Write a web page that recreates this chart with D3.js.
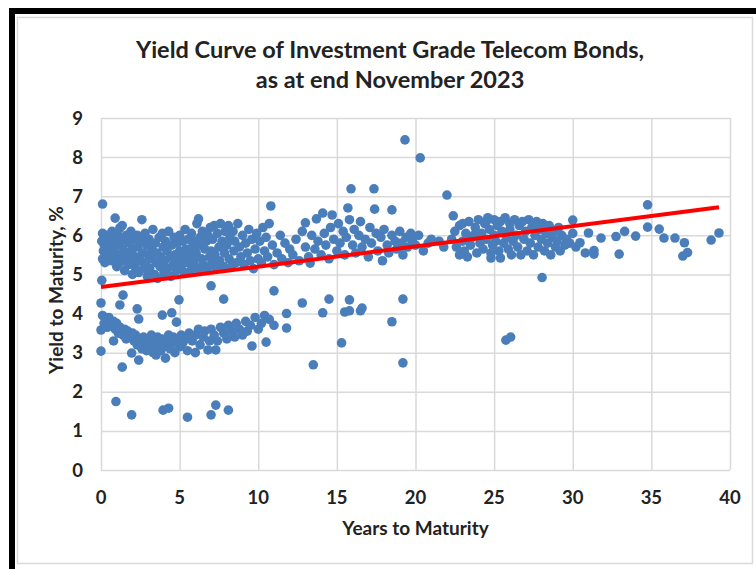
<!DOCTYPE html>
<meta charset="utf-8">
<style>
  body { margin: 0; background: #fff; }
  svg { display: block; font-family: Lato, "Open Sans", sans-serif; }
  .grid line { stroke: #d9d9d9; stroke-width: 1.5px; }
  .grid path { display: none; }
  .tick-label { font-size: 18.5px; font-weight: bold; fill: #222; }
  .title { font-size: 23.5px; font-weight: bold; fill: #222; text-anchor: middle; }
  .axis-title { font-size: 19px; font-weight: bold; fill: #222; text-anchor: middle; }
</style>

<script src="https://d3js.org/d3.v7.min.js"></script>

<div id="chart"></div>

<script>
  // axis ticks
  var xTicks = [0, 5, 10, 15, 20, 25, 30, 35, 40];
  var yTicks = [0, 1, 2, 3, 4, 5, 6, 7, 8, 9];

  // bonds, [years to maturity, yield %]
  var shortUpper = [
    [0.05,5.85],[0.1,6.05],[0.15,5.6],[0.2,5.75],[0.1,5.4],[0.3,5.95],[0.25,5.3],[0.4,6.0],[0.45,5.5],[0.5,5.7],
    [0.6,5.85],[0.65,5.35],[0.7,6.1],[0.8,5.6],[0.85,5.45],[0.9,5.95],[1.0,5.2],[1.0,5.75],
    [1.1,6.0],[1.15,5.5],[1.2,5.3],[1.3,5.85],[1.35,6.25],[1.4,5.65],[1.5,5.1],[1.55,5.4],[1.6,6.0],[1.7,5.55],
    [1.75,5.25],[1.8,5.8],[1.9,6.1],[1.95,5.35],[2.0,5.0],[2.0,5.65],
    [2.1,5.9],[2.15,5.2],[2.2,5.45],[2.3,6.0],[2.35,5.7],[2.4,5.05],[2.5,5.35],[2.55,5.85],[2.6,6.4],[2.65,5.55],
    [2.7,5.15],[2.8,6.05],[2.85,5.3],[2.9,5.75],[2.95,4.95],[3.0,5.5],
    [3.05,5.9],[3.1,5.15],[3.2,5.4],[3.25,5.65],[3.3,6.15],[3.4,5.0],[3.45,5.8],[3.5,5.3],[3.55,5.55],[3.6,4.9],
    [3.7,5.95],[3.75,5.2],[3.8,5.45],[3.9,6.05],[3.95,5.7],[4.0,5.05],
    [4.05,5.35],[4.1,5.85],[4.2,5.6],[4.25,5.15],[4.3,6.1],[4.4,5.45],[4.45,4.95],[4.5,5.75],[4.6,5.25],[4.65,5.95],
    [4.7,5.5],[4.8,5.1],[4.85,5.8],[4.9,5.35],[5.0,6.0],[5.0,5.6],
    [5.1,5.2],[5.15,5.45],[5.2,5.85],[5.3,5.05],[5.35,6.15],[5.4,5.65],[5.5,5.3],[5.55,5.9],[5.6,5.5],[5.7,5.1],
    [5.75,6.05],[5.8,5.7],[5.9,5.35],[5.95,5.85],[6.0,5.2],
    [6.05,5.55],[6.1,6.3],[6.2,5.75],[6.25,5.1],[6.3,5.95],[6.4,5.4],[6.45,6.1],[6.5,5.25],[6.6,5.65],[6.7,5.85],
    [6.75,5.15],[6.8,6.0],[6.9,5.45],[6.95,6.2],[7.0,5.6],
    [7.05,5.3],[7.1,5.9],[7.2,6.25],[7.25,5.5],[7.3,5.15],[7.4,6.05],[7.5,5.7],[7.55,5.35],[7.6,6.3],[7.7,5.85],
    [7.8,5.2],[7.85,5.55],[7.9,6.1],[8.0,5.75],
    [8.1,6.25],[8.15,5.4],[8.2,5.95],[8.3,5.2],[8.4,6.1],[8.45,5.6],[8.5,5.85],[8.6,5.3],[8.7,6.3],[8.8,5.7],
    [8.9,5.45],[9.0,6.0],
    [9.1,5.25],[9.2,5.8],[9.3,5.55],[9.4,6.15],[9.5,5.35],[9.6,5.9],[9.7,5.15],[9.8,5.65],[9.9,6.05],[10.0,5.4],
    [10.1,5.85],[10.2,5.3],[10.3,6.2],[10.4,5.6],[10.5,5.95],[10.6,5.45],[10.7,6.3],[10.8,6.75],[10.9,5.75],[11.0,5.25],
    [11.2,5.55],[11.4,6.0],[11.5,5.4],[11.7,5.8],[11.9,5.3],[12.0,5.65],
    [0.1,6.8],[0.9,6.44],[1.2,6.19],[6.2,6.42]
  ];

  var shortLower = [
    [0.0,3.58],[0.0,3.04],[0.1,3.95],[0.2,3.75],[0.3,3.85],[0.4,3.65],[0.5,3.9],[0.6,3.7],[0.8,3.3],[0.8,3.8],
    [0.9,3.6],[1.0,3.75],[1.1,3.5],[1.2,3.65],[1.35,2.63],[1.4,3.45],[1.5,3.6],[1.6,3.35],[1.7,3.55],[1.8,3.4],
    [1.95,2.99],[2.0,3.5],[2.1,3.3],[2.2,3.45],[2.3,3.2],[2.4,3.86],[2.4,2.81],[2.5,3.35],[2.6,3.1],[2.7,3.4],
    [2.8,3.25],[2.9,3.05],[3.0,3.35],[3.1,3.2],[3.2,3.45],[3.3,3.0],[3.4,3.3],[3.5,2.94],[3.5,3.15],[3.6,3.4],
    [3.7,3.25],[3.8,3.05],[3.9,3.96],[3.9,3.35],[4.0,3.15],[4.1,2.86],[4.2,3.3],[4.3,3.45],[4.4,3.1],[4.5,4.02],
    [4.5,3.25],[4.6,3.4],[4.7,3.0],[4.8,3.78],[4.8,3.3],[5.0,3.15],[5.1,3.45],[5.2,3.25],[5.4,3.35],[5.5,3.05],
    [5.6,3.5],[5.8,3.3],[6.0,3.0],[6.0,3.45],[6.2,3.6],[6.3,3.2],[6.5,3.4],[6.6,3.55],[6.8,3.07],[6.9,3.3],
    [7.0,3.6],[7.2,3.45],[7.3,3.07],[7.4,3.3],[7.6,3.65],[7.8,3.5],[8.0,3.35],[8.1,3.7],[8.3,3.55],[8.5,3.4],
    [8.6,3.75],[8.8,3.6],[9.0,3.45],[9.2,3.8],[9.3,3.55],[9.6,3.17],[9.5,3.7],[9.8,3.9],[10.0,3.6],[10.2,3.75],
    [10.5,3.27],[10.4,3.95],[10.7,3.85],[11.0,3.7],[11.8,3.63],[11.8,4.0],
    [0.05,4.85],[1.4,4.47],[1.2,4.22],[0.0,4.27],[2.3,4.12],[4.96,4.35],[7.0,4.71],[7.8,4.37],[11.0,4.58],[12.8,4.27]
  ];

  var lowOutliers = [
    [0.95,1.75],[1.95,1.41],[3.95,1.53],[4.3,1.58],[5.5,1.35],[7.0,1.41],[7.3,1.66],[8.1,1.53]
  ];

  var midTerm = [
    [12.2,5.5],[12.4,5.9],[12.6,5.35],[12.8,6.1],[13.0,6.32],[13.0,5.7],[13.2,5.45],[13.3,5.29],[13.4,6.0],[13.6,5.65],
    [13.7,6.42],[13.8,5.85],[14.0,5.5],[14.1,6.57],[14.2,6.05],[14.3,5.75],[14.5,5.4],[14.6,6.2],[14.7,6.52],[14.8,5.9],
    [15.0,5.6],[15.1,6.3],[15.2,5.8],[15.4,6.1],[15.5,5.5],[15.6,5.95],[15.7,6.7],[15.8,6.4],[16.0,5.75],[16.1,6.15],
    [16.2,5.55],[16.4,6.0],[16.5,6.35],[16.6,5.7],[16.8,5.9],[17.0,5.45],[17.1,6.2],[17.2,5.8],[17.4,6.67],[17.5,6.05],
    [17.6,5.6],[17.8,5.95],[17.9,5.35],[18.0,6.15],[18.2,5.75],[18.3,5.55],[18.5,6.65],[18.5,6.0],[18.7,5.85],[18.8,5.65],
    [19.0,6.1],[19.1,5.8],[19.2,5.5],[19.4,5.95],[19.5,5.7],[19.7,6.05],[19.8,5.85],[20.0,5.75],[20.2,6.0],[20.5,5.6],
    [20.8,5.8],[21.0,5.9],[21.5,5.85],[21.8,5.7],
    [19.33,8.44],[20.3,7.98],[15.9,7.19],[17.36,7.19],[22.0,7.03],
    [14.5,4.37],[14.1,4.02],[15.8,4.35],[15.5,4.04],[15.8,4.07],[16.5,4.07],[16.6,4.14],[19.2,4.37],[18.5,3.79],
    [15.3,3.25],[13.5,2.69],[19.2,2.74]
  ];

  var longTerm = [
    [22.3,5.9],[22.5,6.1],[22.6,5.7],[22.8,6.25],[23.0,5.85],[23.1,5.6],[23.2,6.05],[23.4,6.35],[23.5,5.75],[23.6,5.95],
    [23.8,6.2],[23.9,5.55],[24.0,6.4],[24.1,5.8],[24.2,6.05],[24.3,5.65],[24.4,6.3],[24.5,5.9],[24.6,6.45],[24.7,6.15],
    [24.8,5.55],[24.9,5.75],[25.0,6.4],[25.0,6.0],[25.1,5.85],[25.2,6.25],[25.3,5.6],[25.4,5.42],[25.4,6.35],[25.5,6.1],
    [25.6,5.8],[25.7,6.45],[25.8,5.95],[25.9,5.65],[26.0,6.3],[26.0,6.15],[26.1,5.5],[26.2,5.85],[26.3,6.4],[26.4,6.0],
    [26.5,5.7],[26.6,6.25],[26.7,5.5],[26.8,6.35],[26.9,5.9],[27.0,6.1],[27.1,5.6],[27.2,6.4],[27.3,5.8],[27.4,6.2],
    [27.5,5.5],[27.6,6.0],[27.7,6.35],[27.8,5.7],[27.9,6.15],[28.0,5.9],[28.1,6.3],[28.2,5.6],[28.3,6.05],[28.4,5.8],
    [28.5,6.25],[28.6,5.5],[28.7,5.95],[28.8,6.1],[28.9,5.7],[29.0,5.85],[29.1,6.2],[29.2,5.6],[29.3,6.0],[29.5,5.75],
    [29.6,5.9],[29.8,5.8],[30.0,6.39],[30.0,6.05],[30.2,5.7],
    [22.4,6.5],[23.0,6.3],[23.7,6.0],[24.5,6.35],[22.8,5.5],[23.3,5.45],[24.8,5.42],[28.05,4.92],
    [25.75,3.32],[26.05,3.4]
  ];

  var veryLong = [
    [30.46,5.81],[30.8,5.55],[31.0,6.06],[31.35,5.52],[31.35,5.61],[31.8,5.93],[32.75,5.97],[32.95,5.52],[33.3,6.1],
    [34.0,5.98],[34.76,6.78],[34.76,6.21],[35.5,6.16],[35.8,5.93],[36.5,5.93],[37.1,5.81],[37.0,5.47],[37.3,5.56],
    [38.8,5.88],[39.3,6.06]
  ];

  // linear trend line end points
  var trendYears = [0, 39.3];
  var trendYield = [4.68, 6.72];

  var width = 756, height = 569;
  var plot = { left: 101, right: 730, top: 118, bottom: 470 };

  var svg = d3.select("#chart").append("svg")
    .attr("width", width)
    .attr("height", height);

  // black frame on the top and left, then the light chart border
  svg.append("rect").attr("x", 9).attr("y", 8).attr("width", width - 9).attr("height", 6).attr("fill", "#000");
  svg.append("rect").attr("x", 9).attr("y", 8).attr("width", 6).attr("height", height - 8).attr("fill", "#000");
  svg.append("rect")
    .attr("x", 17.5).attr("y", 17.5)
    .attr("width", 735).attr("height", 546)
    .attr("fill", "none")
    .attr("stroke", "#d9d9d9")
    .attr("stroke-width", 1.5);

  var x = d3.scaleLinear().domain([0, 40]).range([plot.left, plot.right]);
  var y = d3.scaleLinear().domain([0, 9]).range([plot.bottom, plot.top]);

  // gridlines
  svg.append("g")
    .attr("class", "grid")
    .attr("transform", "translate(0," + plot.bottom + ")")
    .call(d3.axisBottom(x).tickValues(xTicks).tickSize(-(plot.bottom - plot.top)).tickFormat(""));
  svg.append("g")
    .attr("class", "grid")
    .attr("transform", "translate(" + plot.left + ",0)")
    .call(d3.axisLeft(y).tickValues(yTicks).tickSize(-(plot.right - plot.left)).tickFormat(""));

  // tick labels
  svg.append("g").selectAll("text")
    .data(xTicks)
    .enter().append("text")
      .attr("class", "tick-label")
      .attr("text-anchor", "middle")
      .attr("x", function(d) { return x(d); })
      .attr("y", plot.bottom + 34)
      .text(function(d) { return d; });
  svg.append("g").selectAll("text")
    .data(yTicks)
    .enter().append("text")
      .attr("class", "tick-label")
      .attr("text-anchor", "end")
      .attr("x", plot.left - 18)
      .attr("y", function(d) { return y(d) + 6.5; })
      .text(function(d) { return d; });

  // points
  var allPoints = [].concat(shortUpper, shortLower, lowOutliers, midTerm, longTerm, veryLong);
  svg.append("g").selectAll("circle")
    .data(allPoints)
    .enter().append("circle")
      .attr("cx", function(d) { return x(d[0]); })
      .attr("cy", function(d) { return y(d[1]); })
      .attr("r", 4.8)
      .attr("fill", "#4a7ebb");

  // trend line
  var line = d3.line()
    .x(function(d) { return x(d[0]); })
    .y(function(d) { return y(d[1]); });
  svg.append("path")
    .datum(d3.zip(trendYears, trendYield))
    .attr("d", line)
    .attr("fill", "none")
    .attr("stroke", "#ff0000")
    .attr("stroke-width", 4);

  // titles
  svg.append("text").attr("class", "title").attr("x", 390).attr("y", 58)
    .text("Yield Curve of Investment Grade Telecom Bonds,");
  svg.append("text").attr("class", "title").attr("x", 390).attr("y", 88)
    .text("as at end November 2023");

  svg.append("text").attr("class", "axis-title")
    .attr("x", (plot.left + plot.right) / 2).attr("y", 535)
    .text("Years to Maturity");
  svg.append("text").attr("class", "axis-title")
    .attr("transform", "translate(63," + 290 + ") rotate(-90)")
    .text("Yield to Maturity, %");
</script>
